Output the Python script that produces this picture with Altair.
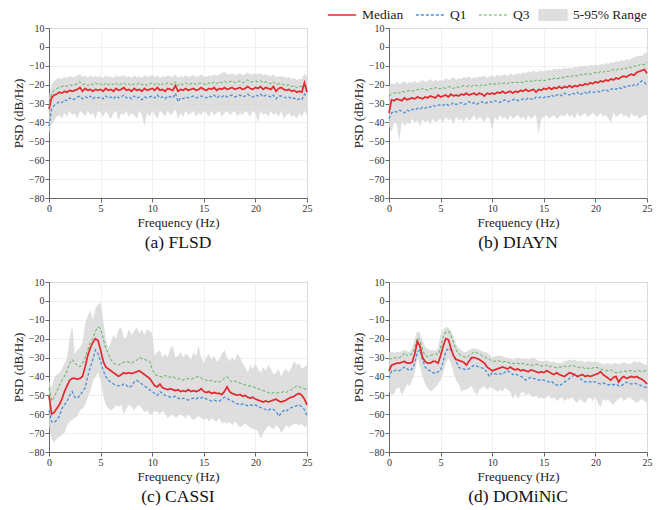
import altair as alt
import numpy as np
import pandas as pd

FONT = "Liberation Serif"
freq = np.round(np.arange(0, 25.001, 0.25), 2)

line_names = ["Median", "Q1", "Q3"]
line_colors = ["#e3262c", "#4a8fd8", "#48aa48"]
band_name = "5-95% Range"
band_color = "#d6d6d6"

# ---------------- FLSD ----------------
flsd_med = [-33, -27, -25.5, -25, -24, -24.5, -23.5, -24, -23, -23.5,
            -23, -22.5, -21.5, -23.5, -22, -23, -22.5, -23.5, -22.5, -23,
            -22.5, -23.5, -22, -23, -22.5, -23.5, -22, -23, -22.5, -21.5,
            -23, -22.5, -23.5, -22, -23, -22.5, -23.5, -22, -23, -22.5,
            -22, -23, -21.5, -23, -22.5, -23.5, -22, -22.5, -23, -20.5,
            -23.5, -22.5, -23, -22, -23, -22.5, -22, -23, -22.5, -21.5,
            -22.5, -23, -22, -22.5, -21.5, -23, -22, -22.5, -21.5, -22.5,
            -22, -21.5, -22.5, -22, -21.5, -22.5, -22, -21, -22, -22.5,
            -21.5, -22, -21, -22.5, -21.5, -22, -22.5, -21, -23.5, -22,
            -21.5, -22.5, -23, -22.5, -23.5, -23, -24, -23.5, -24, -19,
            -24]
flsd_q3 = [-29, -25, -23, -22, -21.5, -21, -20.5, -21, -20, -20.5,
           -20, -19.5, -18.5, -20, -19.5, -20.5, -19.5, -20, -19, -20,
           -19.5, -20.5, -19, -20, -19.5, -20, -19, -20.5, -19.5, -19,
           -20, -19.5, -20.5, -19.5, -20, -19, -20, -19.5, -20.5, -19.5,
           -19, -20, -19, -20.5, -19.5, -20, -19, -19.5, -20, -18.5,
           -20.5, -19.5, -20, -19, -20, -19.5, -19, -20, -19.5, -19,
           -19.5, -20, -19, -19.5, -18.5, -19.5, -18.5, -19, -18, -19,
           -18.5, -18, -19, -18.5, -18, -19, -18.5, -17.5, -18.5, -18.5,
           -18, -18.5, -18, -19, -18.5, -19, -19.5, -18.5, -20, -19.5,
           -19.5, -20, -20.5, -20, -21, -20.5, -21.5, -21, -21, -20.5,
           -21]
flsd_q1 = [-42, -33, -31, -30, -29, -29.5, -28, -28.5, -27, -28,
           -27.5, -26.5, -26, -27.5, -26.5, -27, -26, -27.5, -26.5, -27,
           -26.5, -27.5, -26, -27, -26.5, -27.5, -26, -27, -26.5, -25.5,
           -27, -26.5, -27.5, -26, -27, -26.5, -28, -26.5, -27, -26.5,
           -26, -27, -25.5, -27, -26.5, -27.5, -26, -26.5, -27, -24.5,
           -29, -27, -27.5, -26.5, -27, -26.5, -26, -27, -26.5, -26,
           -26.5, -27, -26, -26.5, -25.5, -27, -26, -26.5, -25.5, -26.5,
           -26, -25.5, -26.5, -26, -25.5, -26.5, -26, -25, -26, -26.5,
           -25.5, -26, -25, -26.5, -25.5, -26, -26.5, -25.5, -27.5, -26,
           -26, -26.5, -27, -26.5, -27.5, -27, -28, -27.5, -28, -25,
           -26]
flsd_p95 = [-26, -20, -18, -17, -16.5, -17, -16, -16.5, -15.5, -16,
            -16, -15, -14.5, -16, -15, -16.5, -15, -16, -15.5, -16,
            -15.5, -16.5, -15, -16, -15.5, -16.5, -15, -16, -15.5, -15,
            -16, -15.5, -16.5, -15, -16, -15.5, -16.5, -15, -16, -15.5,
            -15, -16, -15, -16.5, -15.5, -16, -15, -15.5, -16, -14.5,
            -16.5, -15.5, -16, -15, -16, -15.5, -15, -16, -15.5, -14.5,
            -15.5, -16, -15, -15.5, -14.5, -15.5, -14.5, -14, -13, -14.5,
            -14.5, -14, -15, -14.5, -14, -15, -14.5, -13.5, -14.5, -14.5,
            -14, -14.5, -14, -15, -14.5, -15, -15.5, -14.5, -16, -15.5,
            -15.5, -16, -16.5, -16, -17, -16.5, -17.5, -17, -17, -14,
            -16]
flsd_p5 = [-46, -41, -39, -37, -36, -38, -35, -37, -34, -36,
           -35, -38, -34, -35, -37, -34, -36, -35, -38, -34,
           -35, -37, -34, -36, -38, -35, -34, -39, -35, -36,
           -34, -37, -35, -36, -38, -34, -36, -42, -35, -37,
           -34, -36, -38, -34, -35, -37, -34, -36, -35, -33,
           -38, -35, -37, -34, -36, -35, -34, -37, -35, -36,
           -34, -35, -37, -34, -36, -35, -34, -37, -35, -34,
           -36, -35, -34, -37, -35, -36, -34, -35, -37, -34,
           -35, -40, -34, -36, -35, -37, -34, -36, -35, -37,
           -34, -38, -36, -35, -37, -36, -38, -35, -37, -34,
           -36]

# ---------------- DIAYN ----------------
diayn_med = [-35, -28, -28.5, -27.5, -28, -28.5, -27, -28, -27.5, -27,
             -27.5, -26.5, -27, -27.5, -26.5, -27, -26, -26.5, -27, -25.5,
             -26.5, -26, -25.5, -26.5, -25, -26, -25.5, -26, -25, -25.5,
             -24.5, -25.5, -25, -24.5, -25.5, -24.5, -25, -26, -24.5, -25,
             -24.5, -25, -24, -24.5, -23.5, -24.5, -24, -23.5, -24.5, -23.5,
             -24, -23, -23.5, -22.5, -23.5, -23, -22.5, -24, -22.5, -23,
             -22, -22.5, -21.5, -22.5, -21.5, -22, -21, -22, -21, -21.5,
             -20.5, -21.5, -20.5, -21, -20, -20.5, -19.5, -20, -19, -19.5,
             -18.5, -19, -18, -18.5, -17.5, -18, -17, -17.5, -16.5, -17,
             -16, -15.5, -16, -15, -14.5, -15, -13.5, -13, -12.5, -12,
             -14]
diayn_q3 = [-26, -25, -24.5, -24, -24.5, -23.5, -24, -23.5, -23, -23.5,
            -23, -22.5, -23, -22, -22.5, -23, -22, -22.5, -21.5, -22,
            -22, -21.5, -22, -21, -21.5, -22, -21, -21.5, -21, -20.5,
            -21, -20.5, -21, -20, -20.5, -21, -20, -20.5, -20, -19.5,
            -20, -19.5, -20, -19, -19.5, -19, -19.5, -18.5, -19, -18.5,
            -19, -18.5, -19, -18, -18.5, -18, -18.5, -17.5, -18, -17.5,
            -18, -17.5, -17, -17.5, -16.5, -17, -16.5, -16, -16.5, -15.5,
            -16, -15.5, -15, -15.5, -14.5, -15, -14.5, -14, -14.5, -14,
            -13.5, -14, -13, -13.5, -12.5, -13, -12.5, -12, -12.5, -11.5,
            -12, -11, -11.5, -10.5, -11, -10, -10.5, -9.5, -9, -9.5,
            -8]
diayn_q1 = [-38, -35, -34, -34.5, -33.5, -34, -35, -33.5, -34, -33,
            -33.5, -32.5, -33, -32, -32.5, -31.5, -32, -31, -31.5, -31,
            -30.5, -31, -30, -31, -30.5, -29.5, -30.5, -30, -29.5, -30.5,
            -30, -29, -30, -29.5, -30.5, -29.5, -29, -30, -29.5, -29,
            -29.5, -28.5, -29, -29.5, -28.5, -28, -29, -28.5, -28, -27.5,
            -28.5, -28, -27.5, -28, -27, -27.5, -28, -26.5, -27, -26.5,
            -27, -26, -26.5, -25.5, -26.5, -25.5, -25, -26, -24.5, -25,
            -25.5, -24.5, -25, -24, -25.5, -24.5, -24, -25, -23.5, -24,
            -24, -23.5, -24, -23, -22.5, -23.5, -22.5, -22, -22.5, -21.5,
            -22, -21, -21.5, -20.5, -21, -20, -20.5, -19, -18, -18.5,
            -21]
diayn_p95 = [-21, -19, -20, -18.5, -19.5, -19, -18, -19.5, -18.5, -19,
             -18, -19, -18.5, -17.5, -18.5, -18, -17, -18.5, -17.5, -18,
             -17.5, -18, -16.5, -17.5, -17, -16, -17.5, -16.5, -17, -16,
             -16.5, -15.5, -17, -16, -16.5, -15.5, -16, -15, -16.5, -15.5,
             -15, -16, -14.5, -15.5, -15, -14.5, -15.5, -14, -15, -14.5,
             -14, -14.5, -13.5, -14, -13, -13.5, -12.5, -13.5, -13, -12.5,
             -13, -12.5, -12, -12.5, -11.5, -12, -11.5, -12, -11, -11.5,
             -11, -11.5, -10.5, -11, -10, -10.5, -10, -10.5, -9.5, -10,
             -9.5, -10, -9, -9.5, -8.5, -9, -8, -8.5, -7.5, -8,
             -7, -7.5, -6.5, -7, -6, -5.5, -5, -4.5, -5, -3.5,
             -3]
diayn_p5 = [-42, -45, -40, -41, -50, -39, -42, -40, -41, -38,
            -40, -39, -42, -38, -40, -39, -41, -38, -40, -39,
            -38, -40, -37, -39, -38, -41, -37, -39, -38, -40,
            -37, -39, -38, -36, -39, -37, -38, -40, -37, -38,
            -44, -37, -39, -36, -38, -37, -39, -36, -38, -37,
            -36, -38, -37, -39, -36, -38, -37, -36, -46, -38,
            -37, -36, -38, -37, -36, -38, -37, -36, -37, -35,
            -37, -36, -38, -35, -37, -36, -35, -37, -36, -35,
            -36, -37, -35, -37, -36, -38, -40, -35, -37, -36,
            -35, -37, -36, -38, -35, -37, -36, -38, -37, -36,
            -36]

# ---------------- CASSI ----------------
cassi_med = [-50, -60, -59, -57, -55, -52, -48, -45, -42, -41,
             -41, -41.5, -41, -40, -35, -29, -25, -22, -20, -21,
             -26, -32, -35, -36, -37, -38, -39, -40, -39, -38,
             -38.5, -38, -38.5, -38, -37.5, -37, -38, -39, -40, -41,
             -43, -45, -45.5, -44, -46, -46.5, -47, -46.5, -47, -47.5,
             -47, -48, -47.5, -48, -47, -48, -47.5, -48, -47.5, -46.5,
             -48, -48.5, -48, -49, -48.5, -49, -49, -49.5, -48, -45.5,
             -48, -49, -49.5, -50, -49.5, -50.5, -50, -51, -51.5, -51,
             -52, -52.5, -53, -53.5, -53, -53.5, -53, -52.5, -52, -53,
             -53.5, -53, -52.5, -51.5, -51, -50.5, -49.5, -49, -50, -52,
             -55]
cassi_q3 = [-46, -53, -51, -48, -45, -42, -40, -37, -33, -31,
            -33, -34, -35, -33, -30, -26, -22, -20, -16, -14,
            -14.5, -20, -25, -28, -31, -33, -33.5, -34, -33, -32.5,
            -32, -32.5, -33, -32, -31.5, -30, -30.5, -31, -31.5, -32,
            -36, -39, -39.5, -40, -40.5, -39.5, -40, -40.5, -40, -41,
            -41.5, -41, -42, -41.5, -41, -41.5, -41, -40.5, -40, -41,
            -41.5, -42, -42.5, -42, -43, -42.5, -43, -42, -41, -40,
            -42, -43, -42.5, -43, -43.5, -44, -44.5, -45, -45, -45.5,
            -46, -46.5, -47, -47.5, -48, -48.5, -49, -48.5, -49, -48.5,
            -48.5, -48, -48.5, -47.5, -47, -46, -45, -45.5, -46, -46.5,
            -47]
cassi_q1 = [-58, -64, -64.5, -63, -61, -57, -55, -53, -50, -48,
            -51, -51.5, -50, -48, -46, -40, -35, -31, -26, -28,
            -32, -37, -40, -42, -43, -44, -44.5, -45, -45, -44,
            -44.5, -46, -45, -43, -42, -43, -44, -45, -46, -47,
            -48, -49, -50, -48, -49, -50, -50.5, -51, -51, -50.5,
            -51.5, -52, -51.5, -52, -52.5, -52, -51.5, -52, -51, -51.5,
            -51, -52, -52.5, -53, -52.5, -53, -53, -52, -51, -51.5,
            -52.5, -53, -54, -54.5, -55, -54.5, -55, -55.5, -55, -55.5,
            -55, -56, -56.5, -57, -57.5, -58, -57, -57.5, -58.5, -61,
            -59.5, -58, -58.5, -57, -56.5, -56, -55.5, -55, -56, -57.5,
            -61]
cassi_p95 = [-42, -46, -41, -39, -38, -36, -33, -30, -20, -13,
             -28, -26, -25, -22, -12, -8, -5, -10, -4, -2,
             -1, -10, -20, -25, -22, -18, -20, -15, -14, -20,
             -19, -15, -18, -16, -14, -17, -15, -18, -15, -16,
             -17, -29, -27, -26, -30, -28, -30, -25, -24, -30,
             -29, -27, -30, -28, -29, -31, -27, -29, -24, -30,
             -33, -30, -28, -31, -29, -32, -31, -28, -26, -30,
             -32, -30, -32, -28, -30, -33, -35, -38, -34, -36,
             -33, -36, -38, -35, -37, -34, -36, -39, -38, -36,
             -40, -37, -36, -38, -35, -32, -34, -33, -36, -35,
             -34]
cassi_p5 = [-66, -73, -75, -73, -72, -71, -70, -66, -64, -63,
            -62, -61, -58, -57, -55, -51, -48, -43, -40, -38,
            -42, -50, -55, -57, -58, -57, -55, -56, -55, -60,
            -57, -55, -56, -58, -56, -55, -57, -59, -58, -60,
            -60, -58, -59, -60, -58, -60, -62, -61, -60, -62,
            -61, -60, -61, -62, -60, -62, -63, -62, -61, -62,
            -63, -62, -64, -62, -63, -64, -62, -65, -64, -65,
            -64, -66, -64, -65, -67, -66, -65, -66, -67, -68,
            -68, -69, -73, -70, -68, -66, -67, -68, -66, -67,
            -70, -68, -66, -67, -66, -65, -65, -66, -65, -67,
            -66]

# ---------------- DOMiNiC ----------------
domi_med = [-37, -34, -33.5, -33, -33, -32.5, -32, -33, -33, -32.5,
            -28, -21.5, -24, -30, -32, -33, -33, -32, -32, -33,
            -29, -24, -20, -20.5, -25, -29, -31, -31.5, -32, -32.5,
            -34, -32, -30, -30, -30.5, -31, -32, -33, -35, -36,
            -37, -36.5, -36, -35.5, -35, -35.5, -36, -35, -36, -36.5,
            -36, -37, -36.5, -37, -37.5, -36.5, -37, -37.5, -38, -37.5,
            -38, -37, -37.5, -38.5, -39, -38, -39, -39.5, -40, -39,
            -38, -38.5, -39, -40, -39.5, -39, -40, -39.5, -40, -39.5,
            -39, -38.5, -37.5, -39, -40, -41, -42, -40.5, -40, -43,
            -41, -40, -41, -40.5, -40, -40.5, -40, -41, -41.5, -42.5,
            -44]
domi_q3 = [-31, -30.5, -30, -30.5, -30, -29.5, -27.5, -29, -28.5, -28,
           -25, -19.5, -21, -26, -29, -29.5, -29, -28.5, -28, -28.5,
           -25, -19, -16.5, -16, -18, -22, -26, -28, -29, -29.5,
           -30, -29, -28, -27, -27.5, -28, -29, -29.5, -30.5, -31,
           -32, -32, -31.5, -32, -32.5, -32, -32.5, -33, -33, -33.5,
           -33, -33.5, -33, -34, -33.5, -34, -34, -33.5, -34, -34.5,
           -34.5, -34, -35, -34.5, -35, -35.5, -35, -35, -34.5, -35,
           -34.5, -34, -34.5, -35, -35.5, -35, -36, -35.5, -36, -35.5,
           -35, -35.5, -36, -36.5, -37, -37, -36.5, -37.5, -38, -38,
           -37.5, -37, -37.5, -37, -37, -37.5, -37, -37, -37.5, -37,
           -37]
domi_q1 = [-41, -37, -37, -36.5, -37, -36, -35, -36, -37, -36,
           -33, -27, -26, -31, -35, -36.5, -37, -38, -38.5, -37.5,
           -37, -32, -27, -25, -26, -29, -32, -35, -36, -36,
           -36.5, -36, -35, -34, -34.5, -35, -35.5, -36, -38, -40,
           -38, -38.5, -39, -38.5, -39, -37.5, -37, -38, -39, -38.5,
           -39.5, -40, -40.5, -42, -41, -40.5, -41, -41.5, -42, -41.5,
           -42, -42.5, -43, -42.5, -44, -44.5, -45, -44, -43, -42,
           -41, -40, -39, -40, -41, -42, -43, -42.5, -43, -42.5,
           -43, -43.5, -44, -43.5, -44, -44.5, -44, -44.5, -44, -45,
           -45, -44, -43, -43.5, -44, -43.5, -44, -44.5, -45, -45.5,
           -46]
domi_p95 = [-27, -27, -27.5, -27, -27, -26.5, -26, -26.5, -27, -25,
            -20, -16, -17, -21, -24, -25.5, -26, -26, -26.5, -25,
            -18, -15, -14, -14, -16, -19, -23, -25, -26, -27,
            -27, -26, -25.5, -25, -25.5, -26, -26.5, -27, -27.5, -28.5,
            -30, -29.5, -29, -29, -29.5, -30, -30, -30.5, -31, -30.5,
            -30, -30.5, -31, -30.5, -31, -30.5, -30, -31, -31.5, -32,
            -32, -31.5, -32, -32.5, -32, -33, -32.5, -33, -32, -31.5,
            -31, -31.5, -31, -32, -31.5, -32, -32.5, -32, -32, -32.5,
            -32, -32.5, -33, -33.5, -33, -33, -33.5, -33, -33, -33.5,
            -33, -32.5, -33, -33.5, -33, -32, -32.5, -32, -33, -33.5,
            -34]
domi_p5 = [-48, -50, -49, -46, -46, -50, -47, -44, -45, -42,
           -38, -30, -35, -40, -44, -46, -48, -47, -46, -44,
           -42, -38, -33, -30, -33, -38, -42, -44, -48, -47,
           -47, -46, -45, -48, -50, -47, -46, -45, -47, -46,
           -46, -47, -48, -47, -48, -46, -47, -48, -52, -49,
           -52, -49, -48, -50, -49, -50, -51, -50, -52, -51,
           -52, -51, -50, -52, -51, -53, -52, -51, -53, -52,
           -52, -51, -53, -54, -52, -53, -54, -52, -51, -53,
           -51, -54, -56, -52, -53, -52, -54, -55, -53, -52,
           -51, -53, -52, -51, -52, -53, -54, -53, -52, -53,
           -54]

panels = [
    ("(a) FLSD", flsd_med, flsd_q1, flsd_q3, flsd_p5, flsd_p95),
    ("(b) DIAYN", diayn_med, diayn_q1, diayn_q3, diayn_p5, diayn_p95),
    ("(c) CASSI", cassi_med, cassi_q1, cassi_q3, cassi_p5, cassi_p95),
    ("(d) DOMiNiC", domi_med, domi_q1, domi_q3, domi_p5, domi_p95),
]

LEG_Y = -20
leg_common = dict(title=None, orient="none", direction="horizontal", legendY=LEG_Y,
                  labelFont=FONT, labelFontSize=13.5, labelColor="#222",
                  symbolSize=800, labelOffset=5, clipHeight=14)
line_legend = alt.Legend(legendX=278, columnPadding=11, symbolType="stroke",
                         symbolStrokeWidth=1.5, **leg_common)
band_legend = alt.Legend(legendX=489, symbolType="M-1,-0.4H1V0.4H-1Z",
                         symbolStrokeColor="#d0d0d0", symbolStrokeWidth=0.8,
                         symbolFillColor=band_color, **leg_common)

color_scale = alt.Scale(domain=line_names, range=line_colors)
dash_scale = alt.Scale(domain=line_names, range=[[1, 0], [3, 2], [3, 2]])
width_scale = alt.Scale(domain=line_names, range=[1.7, 0.9, 0.9])
fill_scale = alt.Scale(domain=[band_name], range=[band_color])

x_ticks = [0, 5, 10, 15, 20, 25]
y_ticks = [-80, -70, -60, -50, -40, -30, -20, -10, 0, 10]
axis_style = dict(
    labelFont=FONT, labelFontSize=10, labelColor="#333", labelPadding=1,
    titleFont=FONT, titleFontSize=13, titleFontWeight="normal", titleColor="#222",
    titlePadding=3, tickSize=4, tickColor="#666", domainColor="#666",
    gridColor="#ececec", gridWidth=0.8,
)
x_axis = alt.Axis(values=x_ticks, title="Frequency (Hz)", labelFlush=False, **axis_style)
y_axis = alt.Axis(values=y_ticks, title="PSD (dB/Hz)", **axis_style)

xs = alt.Scale(domain=[0, 25], nice=False)
ys = alt.Scale(domain=[-80, 10], nice=False)


def make_panel(title, med, q1, q3, p5, p95):
    band = pd.DataFrame({"freq": freq, "lo": p5, "hi": p95, "band": band_name})
    lines = pd.concat([
        pd.DataFrame({"freq": freq, "psd": q1, "series": "Q1", "k": 0}),
        pd.DataFrame({"freq": freq, "psd": q3, "series": "Q3", "k": 1}),
        pd.DataFrame({"freq": freq, "psd": med, "series": "Median", "k": 2}),
    ])
    area = alt.Chart(band).mark_area(opacity=0.8).encode(
        x=alt.X("freq:Q", scale=xs, axis=x_axis),
        y=alt.Y("lo:Q", scale=ys, axis=y_axis),
        y2="hi:Q",
        fill=alt.Fill("band:N", scale=fill_scale, legend=band_legend),
    )
    line = alt.Chart(lines).mark_line().encode(
        x=alt.X("freq:Q", scale=xs, axis=x_axis),
        y=alt.Y("psd:Q", scale=ys, axis=y_axis),
        color=alt.Color("series:N", scale=color_scale, legend=line_legend),
        strokeDash=alt.StrokeDash("series:N", scale=dash_scale, legend=line_legend),
        strokeWidth=alt.StrokeWidth("series:N", scale=width_scale, legend=None),
        detail="k:N",
    )
    return alt.layer(area, line).properties(
        width=258, height=170,
        title=alt.TitleParams(title, orient="bottom", offset=5, font=FONT,
                              fontSize=17.5, fontWeight="normal", color="#111"),
    )


charts = [make_panel(*p) for p in panels]
row1 = alt.hconcat(charts[0], charts[1], spacing=38)
row2 = alt.hconcat(charts[2], charts[3], spacing=38)
chart = alt.vconcat(row1, row2, spacing=24).properties(
    padding={"left": 3, "top": 0, "right": 0, "bottom": 0}
).configure(font=FONT).configure_view(
    stroke="#999", strokeWidth=1
).configure_axis(**axis_style).configure_legend(
    labelFont=FONT,
)

chart.save("out.html", embed_options={"renderer": "svg", "actions": False})
